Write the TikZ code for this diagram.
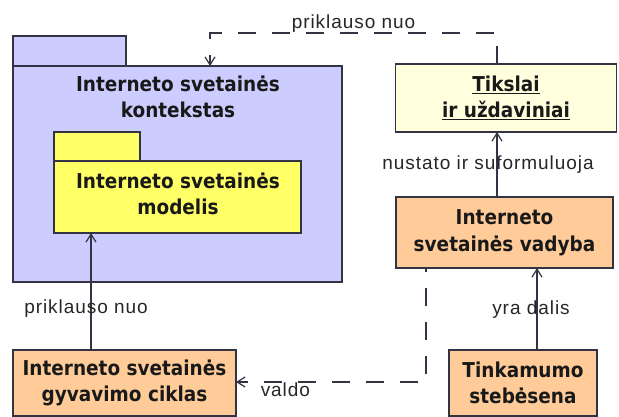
\documentclass[tikz,border=0pt]{standalone}
\usepackage{fontspec}
\setmainfont{Liberation Sans}
\newfontfamily\titlefont{DejaVu Sans}[FakeStretch=0.9]
\newfontfamily\labelfont{Liberation Sans}[LetterSpace=5]
\usetikzlibrary{arrows.meta}

\definecolor{pkgblue}{RGB}{204,204,255}
\definecolor{pkgyellow}{RGB}{255,255,102}
\definecolor{goalyellow}{RGB}{255,255,221}
\definecolor{procorange}{RGB}{255,204,153}
\definecolor{edgegray}{RGB}{51,51,68}

\begin{document}
\begin{tikzpicture}[x=1pt, y=-1pt, line width=1.2pt,
    every node/.style = {inner sep=0pt, outer sep=0pt},
    box/.style = {draw=edgegray, rectangle},
    title/.style = {font=\titlefont\bfseries\fontsize{20.5}{26.5}\selectfont, align=center, text=black!90},
    lbl/.style = {font=\labelfont\fontsize{19}{21}\selectfont, text=black!85},
    dep/.style = {draw=edgegray, -{Straight Barb[length=8pt, width=10pt, line width=1.2pt]}},
    dashline/.style = {dep, dash pattern=on 18pt off 16pt}]
\useasboundingbox (0,0) rectangle (619,417);

% packages
\node[box, fill=pkgblue, minimum width=329, minimum height=216] (kontekstas) at (177.5,174) {};
\node[box, fill=pkgblue, minimum width=113, minimum height=30, anchor=south west] (kontekstasTab) at (kontekstas.north west) {};
\node[title] (kontekstasText) at (178,97) {Interneto svetainės\\kontekstas};
\node[box, fill=pkgyellow, minimum width=247, minimum height=72] (modelis) at (177.5,197) {};
\node[box, fill=pkgyellow, minimum width=86, minimum height=29, anchor=south west] (modelisTab) at (modelis.north west) {};
\node[title] (modelisText) at (178,194) {Interneto svetainės\\modelis};

% boxes
\node[box, fill=goalyellow, minimum width=221, minimum height=68, title] (tikslai) at (506,98) {\underline{Tikslai}\\\underline{ir uždaviniai}};
\node[box, fill=procorange, minimum width=217, minimum height=71, title] (vadyba) at (504.5,232.5) {Interneto\\svetainės vadyba};
\node[box, fill=procorange, minimum width=148, minimum height=66, title] (stebesena) at (523,383) {Tinkamumo\\stebėsena};
\node[box, fill=procorange, minimum width=223, minimum height=66, title] (ciklas) at (124.5,383) {Interneto svetainės\\gyvavimo ciklas};

% connectors
\coordinate (topbend) at (210,33);
\coordinate (topcorner) at (497,33);
\coordinate (lowbend) at (426,382);
\coordinate (goalline) at (497,165);
\coordinate (partline) at (537,310);
\coordinate (ctxline) at (91,300);
\draw[dashline] (topcorner |- tikslai.north) -- (topcorner) -- (topbend) -- (topbend |- kontekstas.north);
\draw[dep] (goalline |- vadyba.north) -- (goalline |- tikslai.south);
\draw[dep] (partline |- stebesena.north) -- (partline |- vadyba.south);
\draw[dashline, dash phase=14pt] (lowbend |- vadyba.south) -- (lowbend) -- (lowbend -| ciklas.east);
\draw[dep] (ctxline |- ciklas.north) -- (ctxline |- modelis.south);

\begin{scope}[nodes = {lbl}]
    \path (topcorner) -- (topbend) node [midway, above=0.5pt] {priklauso nuo};
    \node [xshift=-9pt] at (goalline) {nustato ir suformuluoja};
    \node [xshift=-6pt] at (partline) {yra dalis};
    \path (lowbend) -- (lowbend -| ciklas.east) node [pos=0.74, below=1pt] {valdo};
    \node [xshift=-5pt, yshift=-9pt] at (ctxline) {priklauso nuo};
\end{scope}

\end{tikzpicture}
\end{document}
